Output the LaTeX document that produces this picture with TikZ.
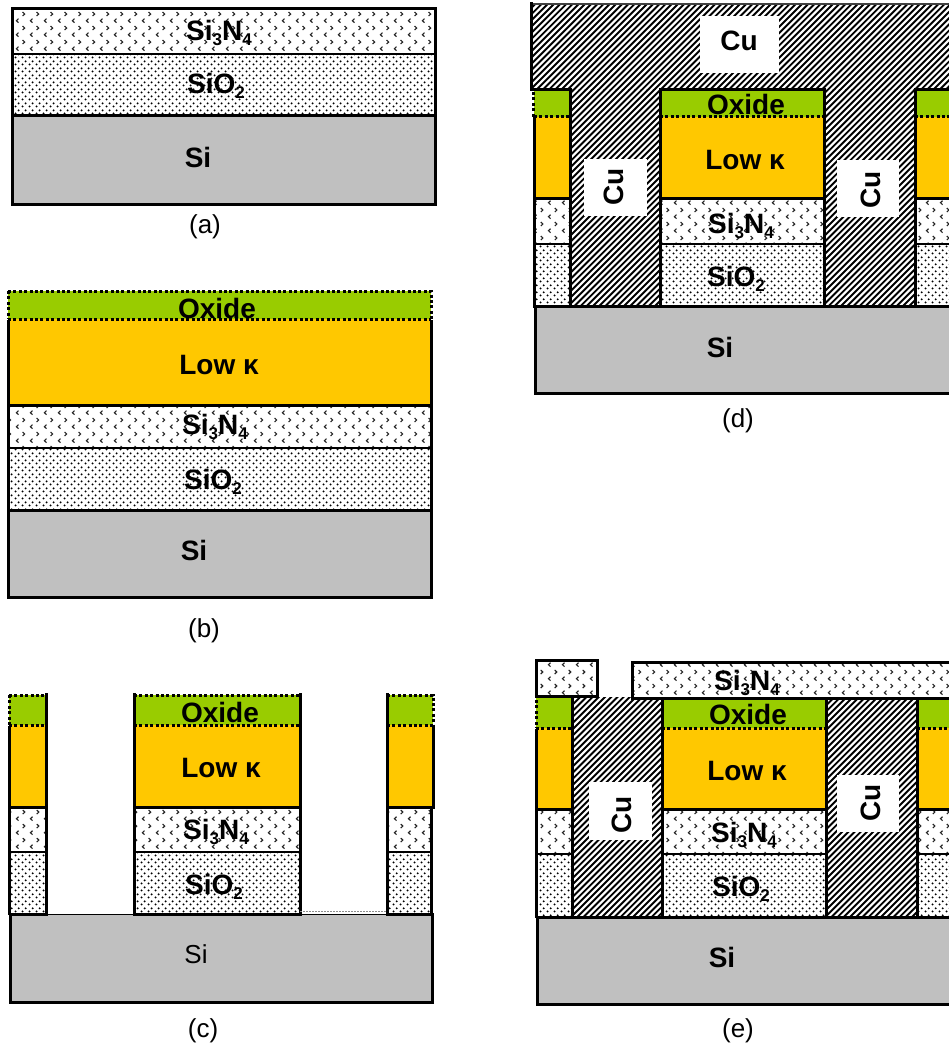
\documentclass[tikz,border=0pt]{standalone}
\usepackage{fontspec}
\setmainfont{Liberation Sans}
\usetikzlibrary{patterns}
\definecolor{lowk}{HTML}{FFC800}
\definecolor{oxidec}{HTML}{99CC00}
\definecolor{sic}{HTML}{C0C0C0}
\pgfdeclarepatternformonly{nitride}{\pgfqpoint{0pt}{0pt}}{\pgfqpoint{14pt}{14pt}}{\pgfqpoint{14pt}{14pt}}{%
  \pgfsetlinewidth{1.2pt}%
  \pgfpathmoveto{\pgfqpoint{4.8pt}{1.4pt}}\pgfpathlineto{\pgfqpoint{2.6pt}{3.5pt}}\pgfpathlineto{\pgfqpoint{4.8pt}{5.6pt}}%
  \pgfpathmoveto{\pgfqpoint{9.2pt}{8.4pt}}\pgfpathlineto{\pgfqpoint{11.4pt}{10.5pt}}\pgfpathlineto{\pgfqpoint{9.2pt}{12.6pt}}%
  \pgfusepath{stroke}}
\pgfdeclarepatternformonly{oxdots}{\pgfqpoint{0pt}{0pt}}{\pgfqpoint{7pt}{7pt}}{\pgfqpoint{7pt}{7pt}}{%
  \pgfpathcircle{\pgfqpoint{1.75pt}{1.75pt}}{1.2pt}%
  \pgfpathcircle{\pgfqpoint{5.25pt}{5.25pt}}{1.2pt}%
  \pgfusepath{fill}}
\tikzset{
  solidline/.style={line width=3pt,black,line cap=rect},
  thinline/.style={line width=2.5pt,black},
  dotline/.style={line width=3pt,black,dash pattern=on 3pt off 2.4pt},
  hatchline/.style={line width=1.9pt,black},
  lbl/.style={inner sep=0pt,font=\fontsize{28}{28}\selectfont\bfseries,text=black},
  captionlbl/.style={inner sep=0pt,font=\fontsize{26}{26}\selectfont,text=black},
  cubox/.style={fill=white,inner sep=0pt}
}
\newcommand{\subs}[1]{\raisebox{-0.2em}{\fontsize{17}{17}\selectfont #1}}
\newcommand{\NitrideT}{Si\subs{3}N\subs{4}}
\newcommand{\OxT}{SiO\subs{2}}
% x1 y1 x2 y2
\newcommand{\nitr}[4]{\fill[white] (#1,#2) rectangle (#3,#4); \fill[pattern=nitride,pattern color=black!85] (#1,#2) rectangle (#3,#4);}
\newcommand{\oxi}[4]{\fill[white] (#1,#2) rectangle (#3,#4); \fill[pattern=oxdots,pattern color=black] (#1,#2) rectangle (#3,#4);}
% hatch of a rectangle: lines x+y = 6.2 n, all lines of one panel in phase
\newcommand{\cuh}[4]{%
  \begin{scope}
  \clip (#1,#2) rectangle (#3,#4);
  \pgfmathtruncatemacro{\hatchA}{(#1+#2)/6.2-1}
  \pgfmathtruncatemacro{\hatchB}{(#3+#4)/6.2+1}
  \foreach \n in {\hatchA,...,\hatchB}{
    \pgfmathsetmacro{\hatchK}{6.2*\n}
    \draw[hatchline] ({\hatchK-#2+1},{#2-1}) -- ({\hatchK-#4-1},{#4+1});
  }
  \end{scope}
}
% stack: x1 x2 ytop ydot yor yni yox
\newcommand{\stackfill}[7]{%
  \fill[oxidec] (#1,#3) rectangle (#2,#4);
  \fill[lowk] (#1,#4) rectangle (#2,#5);
  \nitr{#1}{#5}{#2}{#6}
  \oxi{#1}{#6}{#2}{#7}
  \draw[dotline] (#1,#4) -- (#2,#4);
  \draw[solidline] (#1,#5) -- (#2,#5);
  \draw[thinline] (#1,#6) -- (#2,#6);
}
\begin{document}
\begin{tikzpicture}[x=1pt,y=-1pt]
\path[use as bounding box,fill=white] (0,0) rectangle (949,1046);
% ---------- (a)
\nitr{12}{9}{435}{54}
\oxi{12}{54}{435}{116}
\fill[sic] (12,116) rectangle (435,204);
\draw[thinline] (12,54) -- (435,54);
\draw[solidline] (12,116) -- (435,116);
\draw[solidline] (12,9) rectangle (435,204);
\node[lbl] (aN) at (219,33) {\NitrideT};
\node[lbl] (aO) at (216,86) {\OxT};
\node[lbl] (aS) at (198,157) {Si};
\node[captionlbl] (aC) at (205,227) {(a)};
% ---------- (b)
\stackfill{8}{431}{291}{319}{405}{448}{510}
\fill[sic] (8,510) rectangle (431,597);
\draw[solidline] (8,510) -- (431,510);
\draw[dotline] (8,291) -- (431,291) -- (431,319);
\draw[dotline] (8,291) -- (8,319);
\draw[solidline] (8,321) -- (8,597) -- (431,597) -- (431,321);
\node[lbl] (bX) at (217,308) {Oxide};
\node[lbl] (bL) at (219,365) {Low κ};
\node[lbl] (bN) at (215,427) {\NitrideT};
\node[lbl] (bO) at (213,482) {\OxT};
\node[lbl] (bS) at (194,550) {Si};
\node[captionlbl] (bC) at (204,631) {(b)};
% ---------- (c)
\stackfill{9}{46}{695}{725}{807}{852}{913}
\stackfill{134}{300}{695}{725}{807}{852}{913}
\stackfill{387}{433}{695}{725}{807}{852}{913}
\fill[sic] (10,914) rectangle (432,1002);
\draw[dotline] (9,695) -- (46,695);
\draw[dotline] (9,695) -- (9,725);
\draw[solidline] (9,727) -- (9,913);
\draw[solidline] (46,694) -- (46,913);
\draw[dotline] (134,695) -- (300,695);
\draw[solidline] (134,694) -- (134,913);
\draw[solidline] (300,694) -- (300,913);
\draw[dotline] (387,695) -- (433,695) -- (433,725);
\draw[solidline] (387,694) -- (387,913);
\draw[solidline] (433,727) -- (433,807);
\draw[solidline] (431,807) -- (431,913);
\draw[line width=0.9pt,black!45,dash pattern=on 1.5pt off 1.5pt] (300,911.5) -- (387,911.5);
\draw[solidline] (10,914) -- (46,914);
\draw[solidline] (134,914) -- (300,914);
\draw[solidline] (387,914) -- (432,914);
\draw[line width=1pt,black] (46,914) -- (134,914);
\draw[line width=1pt,black] (300,914) -- (387,914);
\draw[solidline] (10,914) -- (10,1002) -- (432,1002) -- (432,914);
\node[lbl] (cX) at (220,712) {Oxide};
\node[lbl] (cL) at (221,768) {Low κ};
\node[lbl] (cN) at (216,832) {\NitrideT};
\node[lbl] (cO) at (214,887) {\OxT};
\node[inner sep=0pt,font=\fontsize{26}{26}\selectfont] (cS) at (196,954) {Si};
\node[captionlbl] (cC) at (203,1031) {(c)};
% ---------- (d)
\cuh{531}{4}{955}{90}
\cuh{570}{90}{955}{305}
\stackfill{534}{570}{90}{117}{198}{244}{305}
\stackfill{660}{824}{90}{117}{198}{244}{305}
\stackfill{915}{955}{90}{117}{198}{244}{305}
\fill[sic] (535,306) rectangle (955,393);
\draw[line width=1.5pt,black!75] (531,4) -- (955,4);
\draw[solidline] (531,4) -- (531,90) -- (570,90) -- (570,305);
\draw[solidline] (660,305) -- (660,90) -- (824,90) -- (824,305);
\draw[solidline] (955,90) -- (915,90) -- (915,305);
\draw[dotline] (533,92) -- (533,117);
\draw[solidline] (534,119) -- (534,305);
\draw[solidline] (534,306) -- (955,306);
\draw[solidline] (955,393) -- (535,393) -- (535,306);
\node[cubox,minimum width=79pt,minimum height=57pt] (dB1) at (739.5,44.5) {};
\node[cubox,minimum width=63pt,minimum height=57pt] (dB2) at (615.5,187.5) {};
\node[cubox,minimum width=62pt,minimum height=57pt] (dB3) at (868,188.5) {};
\node[lbl] (dCu1) at (739,41) {Cu};
\node[lbl,rotate=90] (dCu2) at (614,187) {Cu};
\node[lbl,rotate=90] (dCu3) at (871,190) {Cu};
\node[lbl] (dX) at (746,104) {Oxide};
\node[lbl] (dL) at (745,160) {Low κ};
\node[lbl] (dN) at (741,226) {\NitrideT};
\node[lbl] (dO) at (736,279) {\OxT};
\node[lbl] (dS) at (720,347) {Si};
\node[captionlbl] (dC) at (738,421) {(d)};
% ---------- (e)
\cuh{573}{697}{662}{916}
\cuh{826}{698}{917}{916}
\stackfill{536}{572}{698}{728}{809}{854}{916}
\stackfill{662}{826}{698}{728}{809}{854}{916}
\stackfill{917}{955}{698}{728}{809}{854}{916}
\fill[sic] (537,917) rectangle (955,1004);
\nitr{536}{660}{597}{696}
\draw[solidline] (536,660) rectangle (597,696);
\nitr{632}{662}{955}{698}
\draw[solidline] (955,662) -- (632,662) -- (632,698) -- (955,698);
\draw[dotline] (536,700) -- (536,728);
\draw[solidline] (536,730) -- (536,916);
\draw[solidline] (572,698) -- (572,916);
\draw[solidline] (662,698) -- (662,916);
\draw[solidline] (826,698) -- (826,916);
\draw[solidline] (917,698) -- (917,916);
\draw[solidline] (537,917) -- (955,917);
\draw[solidline] (955,1004) -- (537,1004) -- (537,917);
\node[cubox,minimum width=63pt,minimum height=58pt] (eB1) at (620.5,811) {};
\node[cubox,minimum width=62pt,minimum height=57pt] (eB2) at (868,803.5) {};
\node[lbl,rotate=90] (eCu1) at (622,815) {Cu};
\node[lbl,rotate=90] (eCu2) at (871,803) {Cu};
\node[lbl] (eNt) at (747,683) {\NitrideT};
\node[lbl] (eX) at (748,714) {Oxide};
\node[lbl] (eL) at (747,771) {Low κ};
\node[lbl] (eN) at (744,835) {\NitrideT};
\node[lbl] (eO) at (741,889) {\OxT};
\node[lbl] (eS) at (722,957) {Si};
\node[captionlbl] (eC) at (738,1031) {(e)};
\end{tikzpicture}
\end{document}
